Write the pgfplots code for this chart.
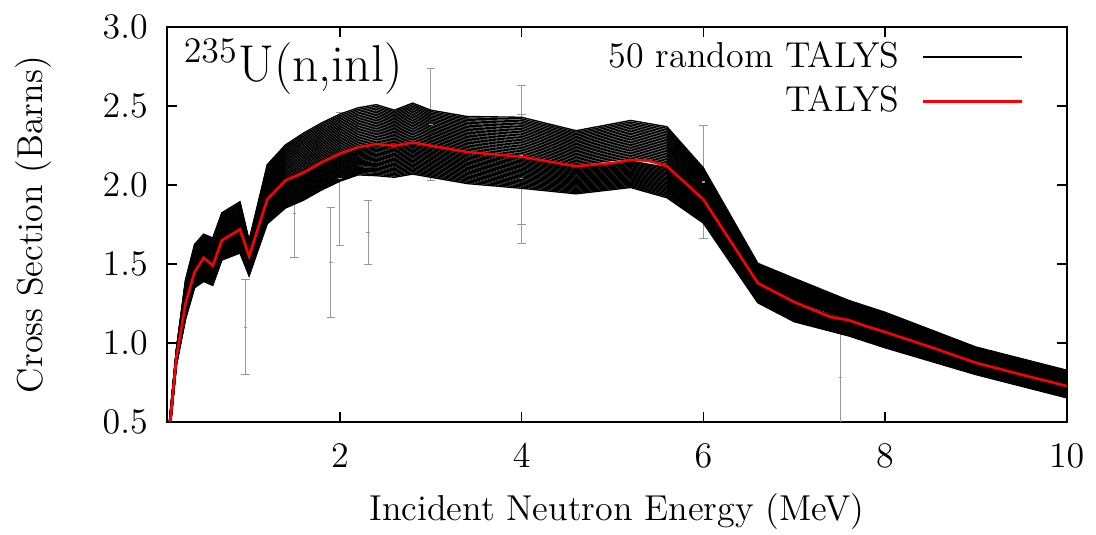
\documentclass[12pt,border=0pt]{standalone}
\usepackage{pgfplots}
\usepackage{pgfplotstable}
\pgfplotsset{compat=1.18}

% 50 random TALYS curves: column 0 = energy (MeV), columns 1..50 = cross sections (b)
\pgfplotstableread[header=false]{
0.1 0.270 0.272 0.274 0.276 0.278 0.280 0.282 0.284 0.286 0.288 0.290 0.292 0.294 0.296 0.298 0.300 0.302 0.304 0.306 0.308 0.310 0.312 0.314 0.316 0.318 0.322 0.324 0.326 0.328 0.330 0.332 0.334 0.336 0.338 0.340 0.342 0.344 0.346 0.348 0.350 0.352 0.354 0.356 0.358 0.360 0.362 0.364 0.366 0.368 0.370
0.2 0.860 0.862 0.864 0.866 0.868 0.870 0.872 0.874 0.876 0.878 0.880 0.882 0.884 0.886 0.888 0.890 0.892 0.894 0.896 0.898 0.900 0.902 0.904 0.906 0.908 0.912 0.914 0.916 0.918 0.920 0.922 0.924 0.926 0.928 0.930 0.932 0.934 0.936 0.938 0.940 0.942 0.944 0.946 0.948 0.950 0.952 0.954 0.956 0.958 0.960
0.3 1.150 1.154 1.158 1.162 1.166 1.170 1.174 1.178 1.182 1.186 1.190 1.194 1.198 1.202 1.206 1.210 1.214 1.218 1.222 1.226 1.230 1.234 1.238 1.242 1.246 1.256 1.262 1.268 1.274 1.280 1.286 1.292 1.298 1.304 1.310 1.316 1.322 1.328 1.334 1.340 1.346 1.352 1.358 1.364 1.370 1.376 1.382 1.388 1.394 1.400
0.4 1.350 1.354 1.358 1.362 1.366 1.370 1.374 1.378 1.382 1.386 1.390 1.394 1.398 1.402 1.406 1.410 1.414 1.418 1.422 1.426 1.430 1.434 1.438 1.442 1.446 1.457 1.464 1.471 1.478 1.485 1.492 1.499 1.506 1.513 1.520 1.527 1.534 1.541 1.548 1.555 1.562 1.569 1.576 1.583 1.590 1.597 1.604 1.611 1.618 1.625
0.5 1.390 1.396 1.402 1.408 1.414 1.420 1.426 1.432 1.438 1.444 1.450 1.456 1.462 1.468 1.474 1.480 1.486 1.492 1.498 1.504 1.510 1.516 1.522 1.528 1.534 1.546 1.552 1.558 1.564 1.570 1.576 1.582 1.588 1.594 1.600 1.606 1.612 1.618 1.624 1.630 1.636 1.642 1.648 1.654 1.660 1.666 1.672 1.678 1.684 1.690
0.6 1.365 1.370 1.375 1.380 1.385 1.390 1.395 1.400 1.405 1.410 1.415 1.420 1.425 1.430 1.435 1.440 1.445 1.450 1.455 1.460 1.465 1.470 1.475 1.480 1.485 1.497 1.504 1.511 1.518 1.525 1.532 1.539 1.546 1.553 1.560 1.567 1.574 1.581 1.588 1.595 1.602 1.609 1.616 1.623 1.630 1.637 1.644 1.651 1.658 1.665
0.7 1.525 1.530 1.535 1.540 1.545 1.550 1.555 1.560 1.565 1.570 1.575 1.580 1.585 1.590 1.595 1.600 1.605 1.610 1.615 1.620 1.625 1.630 1.635 1.640 1.645 1.657 1.664 1.671 1.678 1.685 1.692 1.699 1.706 1.713 1.720 1.727 1.734 1.741 1.748 1.755 1.762 1.769 1.776 1.783 1.790 1.797 1.804 1.811 1.818 1.825
0.9 1.570 1.576 1.582 1.588 1.594 1.600 1.606 1.612 1.618 1.624 1.630 1.636 1.642 1.648 1.654 1.660 1.666 1.672 1.678 1.684 1.690 1.696 1.702 1.708 1.714 1.727 1.734 1.741 1.748 1.755 1.762 1.769 1.776 1.783 1.790 1.797 1.804 1.811 1.818 1.825 1.832 1.839 1.846 1.853 1.860 1.867 1.874 1.881 1.888 1.895
1.0 1.425 1.430 1.435 1.440 1.445 1.450 1.455 1.460 1.465 1.470 1.475 1.480 1.485 1.490 1.495 1.500 1.505 1.510 1.515 1.520 1.525 1.530 1.535 1.540 1.545 1.554 1.558 1.562 1.566 1.570 1.574 1.578 1.582 1.586 1.590 1.594 1.598 1.602 1.606 1.610 1.614 1.618 1.622 1.626 1.630 1.634 1.638 1.642 1.646 1.650
1.2 1.755 1.761 1.767 1.773 1.779 1.785 1.791 1.797 1.803 1.809 1.815 1.821 1.827 1.833 1.839 1.845 1.851 1.857 1.863 1.869 1.875 1.881 1.887 1.893 1.899 1.914 1.923 1.932 1.941 1.950 1.959 1.968 1.977 1.986 1.995 2.004 2.013 2.022 2.031 2.040 2.049 2.058 2.067 2.076 2.085 2.094 2.103 2.112 2.121 2.130
1.4 1.855 1.862 1.869 1.876 1.883 1.890 1.897 1.904 1.911 1.918 1.925 1.932 1.939 1.946 1.953 1.960 1.967 1.974 1.981 1.988 1.995 2.002 2.009 2.016 2.023 2.039 2.048 2.057 2.066 2.075 2.084 2.093 2.102 2.111 2.120 2.129 2.138 2.147 2.156 2.165 2.174 2.183 2.192 2.201 2.210 2.219 2.228 2.237 2.246 2.255
1.6 1.905 1.912 1.919 1.926 1.933 1.940 1.947 1.954 1.961 1.968 1.975 1.982 1.989 1.996 2.003 2.010 2.017 2.024 2.031 2.038 2.045 2.052 2.059 2.066 2.073 2.090 2.100 2.110 2.120 2.130 2.140 2.150 2.160 2.170 2.180 2.190 2.200 2.210 2.220 2.230 2.240 2.250 2.260 2.270 2.280 2.290 2.300 2.310 2.320 2.330
1.8 1.970 1.977 1.984 1.991 1.998 2.005 2.012 2.019 2.026 2.033 2.040 2.047 2.054 2.061 2.068 2.075 2.082 2.089 2.096 2.103 2.110 2.117 2.124 2.131 2.138 2.155 2.165 2.175 2.185 2.195 2.205 2.215 2.225 2.235 2.245 2.255 2.265 2.275 2.285 2.295 2.305 2.315 2.325 2.335 2.345 2.355 2.365 2.375 2.385 2.395
2.0 2.025 2.032 2.039 2.046 2.053 2.060 2.067 2.074 2.081 2.088 2.095 2.102 2.109 2.116 2.123 2.130 2.137 2.144 2.151 2.158 2.165 2.172 2.179 2.186 2.193 2.210 2.220 2.230 2.240 2.250 2.260 2.270 2.280 2.290 2.300 2.310 2.320 2.330 2.340 2.350 2.360 2.370 2.380 2.390 2.400 2.410 2.420 2.430 2.440 2.450
2.2 2.065 2.072 2.079 2.086 2.093 2.100 2.107 2.114 2.121 2.128 2.135 2.142 2.149 2.156 2.163 2.170 2.177 2.184 2.191 2.198 2.205 2.212 2.219 2.226 2.233 2.250 2.260 2.270 2.280 2.290 2.300 2.310 2.320 2.330 2.340 2.350 2.360 2.370 2.380 2.390 2.400 2.410 2.420 2.430 2.440 2.450 2.460 2.470 2.480 2.490
2.4 2.060 2.068 2.076 2.084 2.092 2.100 2.108 2.116 2.124 2.132 2.140 2.148 2.156 2.164 2.172 2.180 2.188 2.196 2.204 2.212 2.220 2.228 2.236 2.244 2.252 2.270 2.280 2.290 2.300 2.310 2.320 2.330 2.340 2.350 2.360 2.370 2.380 2.390 2.400 2.410 2.420 2.430 2.440 2.450 2.460 2.470 2.480 2.490 2.500 2.510
2.6 2.050 2.058 2.066 2.074 2.082 2.090 2.098 2.106 2.114 2.122 2.130 2.138 2.146 2.154 2.162 2.170 2.178 2.186 2.194 2.202 2.210 2.218 2.226 2.234 2.242 2.259 2.268 2.277 2.286 2.295 2.304 2.313 2.322 2.331 2.340 2.349 2.358 2.367 2.376 2.385 2.394 2.403 2.412 2.421 2.430 2.439 2.448 2.457 2.466 2.475
2.8 2.070 2.078 2.086 2.094 2.102 2.110 2.118 2.126 2.134 2.142 2.150 2.158 2.166 2.174 2.182 2.190 2.198 2.206 2.214 2.222 2.230 2.238 2.246 2.254 2.262 2.280 2.290 2.300 2.310 2.320 2.330 2.340 2.350 2.360 2.370 2.380 2.390 2.400 2.410 2.420 2.430 2.440 2.450 2.460 2.470 2.480 2.490 2.500 2.510 2.520
3.0 2.050 2.058 2.066 2.074 2.082 2.090 2.098 2.106 2.114 2.122 2.130 2.138 2.146 2.154 2.162 2.170 2.178 2.186 2.194 2.202 2.210 2.218 2.226 2.234 2.242 2.259 2.268 2.277 2.286 2.295 2.304 2.313 2.322 2.331 2.340 2.349 2.358 2.367 2.376 2.385 2.394 2.403 2.412 2.421 2.430 2.439 2.448 2.457 2.466 2.475
3.4 2.010 2.018 2.026 2.034 2.042 2.050 2.058 2.066 2.074 2.082 2.090 2.098 2.106 2.114 2.122 2.130 2.138 2.146 2.154 2.162 2.170 2.178 2.186 2.194 2.202 2.219 2.228 2.237 2.246 2.255 2.264 2.273 2.282 2.291 2.300 2.309 2.318 2.327 2.336 2.345 2.354 2.363 2.372 2.381 2.390 2.399 2.408 2.417 2.426 2.435
4.0 1.980 1.988 1.996 2.004 2.012 2.020 2.028 2.036 2.044 2.052 2.060 2.068 2.076 2.084 2.092 2.100 2.108 2.116 2.124 2.132 2.140 2.148 2.156 2.164 2.172 2.190 2.200 2.210 2.220 2.230 2.240 2.250 2.260 2.270 2.280 2.290 2.300 2.310 2.320 2.330 2.340 2.350 2.360 2.370 2.380 2.390 2.400 2.410 2.420 2.430
4.6 1.945 1.952 1.959 1.966 1.973 1.980 1.987 1.994 2.001 2.008 2.015 2.022 2.029 2.036 2.043 2.050 2.057 2.064 2.071 2.078 2.085 2.092 2.099 2.106 2.113 2.129 2.138 2.147 2.156 2.165 2.174 2.183 2.192 2.201 2.210 2.219 2.228 2.237 2.246 2.255 2.264 2.273 2.282 2.291 2.300 2.309 2.318 2.327 2.336 2.345
5.2 1.985 1.992 1.999 2.006 2.013 2.020 2.027 2.034 2.041 2.048 2.055 2.062 2.069 2.076 2.083 2.090 2.097 2.104 2.111 2.118 2.125 2.132 2.139 2.146 2.153 2.170 2.180 2.190 2.200 2.210 2.220 2.230 2.240 2.250 2.260 2.270 2.280 2.290 2.300 2.310 2.320 2.330 2.340 2.350 2.360 2.370 2.380 2.390 2.400 2.410
5.6 1.920 1.928 1.936 1.944 1.952 1.960 1.968 1.976 1.984 1.992 2.000 2.008 2.016 2.024 2.032 2.040 2.048 2.056 2.064 2.072 2.080 2.088 2.096 2.104 2.112 2.130 2.140 2.150 2.160 2.170 2.180 2.190 2.200 2.210 2.220 2.230 2.240 2.250 2.260 2.270 2.280 2.290 2.300 2.310 2.320 2.330 2.340 2.350 2.360 2.370
6.0 1.760 1.766 1.772 1.778 1.784 1.790 1.796 1.802 1.808 1.814 1.820 1.826 1.832 1.838 1.844 1.850 1.856 1.862 1.868 1.874 1.880 1.886 1.892 1.898 1.904 1.918 1.926 1.934 1.942 1.950 1.958 1.966 1.974 1.982 1.990 1.998 2.006 2.014 2.022 2.030 2.038 2.046 2.054 2.062 2.070 2.078 2.086 2.094 2.102 2.110
6.6 1.255 1.260 1.265 1.270 1.275 1.280 1.285 1.290 1.295 1.300 1.305 1.310 1.315 1.320 1.325 1.330 1.335 1.340 1.345 1.350 1.355 1.360 1.365 1.370 1.375 1.385 1.390 1.395 1.400 1.405 1.410 1.415 1.420 1.425 1.430 1.435 1.440 1.445 1.450 1.455 1.460 1.465 1.470 1.475 1.480 1.485 1.490 1.495 1.500 1.505
7.0 1.135 1.140 1.145 1.150 1.155 1.160 1.165 1.170 1.175 1.180 1.185 1.190 1.195 1.200 1.205 1.210 1.215 1.220 1.225 1.230 1.235 1.240 1.245 1.250 1.255 1.266 1.272 1.278 1.284 1.290 1.296 1.302 1.308 1.314 1.320 1.326 1.332 1.338 1.344 1.350 1.356 1.362 1.368 1.374 1.380 1.386 1.392 1.398 1.404 1.410
7.6 1.045 1.049 1.053 1.057 1.061 1.065 1.069 1.073 1.077 1.081 1.085 1.089 1.093 1.097 1.101 1.105 1.109 1.113 1.117 1.121 1.125 1.129 1.133 1.137 1.141 1.150 1.155 1.160 1.165 1.170 1.175 1.180 1.185 1.190 1.195 1.200 1.205 1.210 1.215 1.220 1.225 1.230 1.235 1.240 1.245 1.250 1.255 1.260 1.265 1.270
8.0 0.970 0.974 0.978 0.982 0.986 0.990 0.994 0.998 1.002 1.006 1.010 1.014 1.018 1.022 1.026 1.030 1.034 1.038 1.042 1.046 1.050 1.054 1.058 1.062 1.066 1.075 1.080 1.085 1.090 1.095 1.100 1.105 1.110 1.115 1.120 1.125 1.130 1.135 1.140 1.145 1.150 1.155 1.160 1.165 1.170 1.175 1.180 1.185 1.190 1.195
9.0 0.800 0.803 0.806 0.809 0.812 0.815 0.818 0.821 0.824 0.827 0.830 0.833 0.836 0.839 0.842 0.845 0.848 0.851 0.854 0.857 0.860 0.863 0.866 0.869 0.872 0.879 0.883 0.887 0.891 0.895 0.899 0.903 0.907 0.911 0.915 0.919 0.923 0.927 0.931 0.935 0.939 0.943 0.947 0.951 0.955 0.959 0.963 0.967 0.971 0.975
10.0 0.653 0.656 0.659 0.662 0.665 0.668 0.671 0.674 0.677 0.680 0.683 0.686 0.689 0.692 0.695 0.698 0.701 0.704 0.707 0.710 0.713 0.716 0.719 0.722 0.725 0.732 0.736 0.740 0.744 0.748 0.752 0.756 0.760 0.764 0.768 0.772 0.776 0.780 0.784 0.788 0.792 0.796 0.800 0.804 0.808 0.812 0.816 0.820 0.824 0.828
}\randtab

% central TALYS curve
\pgfplotstableread{
x y
0.1 0.32
0.2 0.91
0.3 1.25
0.4 1.45
0.5 1.54
0.6 1.49
0.7 1.65
0.9 1.72
1.0 1.55
1.2 1.91
1.4 2.03
1.6 2.08
1.8 2.145
2.0 2.20
2.2 2.24
2.4 2.26
2.6 2.25
2.8 2.27
3.0 2.25
3.4 2.21
4.0 2.18
4.6 2.12
5.0 2.14
5.2 2.16
5.4 2.155
5.6 2.12
6.0 1.91
6.6 1.38
7.0 1.26
7.4 1.165
7.6 1.145
7.8 1.105
8.0 1.07
8.5 0.975
9.0 0.875
9.5 0.80
10.0 0.728
}\talystab

% experimental data with uncertainties
\pgfplotstableread{
x y e
0.96 1.10 0.30
1.50 1.82 0.28
1.90 1.51 0.35
2.00 2.04 0.42
2.31 1.70 0.20
3.00 2.385 0.355
4.00 2.19 0.44
4.00 2.04 0.41
6.00 2.02 0.355
7.51 0.78 0.40
}\exptab

\begin{document}
\begin{tikzpicture}
\begin{axis}[
  scale only axis,
  width=300pt, height=131.6pt,
  xmin=0.096, xmax=10, ymin=0.5, ymax=3,
  xtick={2,4,6,8,10},
  ytick={0.5,1.0,1.5,2.0,2.5,3.0},
  xticklabel style={yshift=-3.3pt},
  yticklabel style={xshift=-2.2pt, /pgf/number format/.cd, fixed, fixed zerofill, precision=1},
  tick align=inside,
  major tick length=3.3pt,
  every tick/.style={black, line width=0.5pt},
  axis line style={line width=0.65pt},
  every axis x label/.style={at={(axis description cs:0.5,-0.2508)}, anchor=base},
  every axis y label/.style={at={(axis description cs:-0.1383,0.5)}, rotate=90, anchor=base},
  xlabel={Incident Neutron Energy (MeV)},
  ylabel={Cross Section (Barns)},
  legend plot pos=right,
  legend cell align=right,
  legend image code/.code={\draw[#1] (0pt,0pt) -- (33pt,0pt);},
  legend style={draw=none, fill=none, inner sep=0pt, outer sep=0pt,
    at={(axis description cs:0.952,0.964)}, anchor=north east,
    column sep=7.6pt, row sep=4.4pt,
    nodes={inner sep=0pt}},
]
\addplot[forget plot, only marks, mark=-, mark size=0.6pt, color=gray!80, line width=0.35pt,
  error bars/.cd, y dir=both, y explicit,
  error bar style={color=gray!80, line width=0.35pt},
  error mark options={rotate=90, mark size=1.4pt, color=gray!80, line width=0.35pt}]
  table[x=x, y=y, y error=e] {\exptab};

\addplot[black, line width=0.45pt] table[x index=0, y index=1] {\randtab};
\addlegendentry{50 random TALYS}
\pgfplotsinvokeforeach{2,...,50}{
  \addplot[forget plot, black, line width=0.45pt] table[x index=0, y index=#1] {\randtab};
}
\addplot[red, line width=0.85pt] table[x=x, y=y] {\talystab};
\addlegendentry{TALYS}

\node[anchor=base west, inner sep=0pt] at (axis description cs:0.0181,0.8622) {\Large $^{235}$U(n,inl)};
\coordinate (BL) at (rel axis cs:0,0);
\coordinate (TR) at (rel axis cs:1,1);
\end{axis}
\pgfresetboundingbox
\useasboundingbox ([shift={(-55.67pt,-37.67pt)}]BL) rectangle ([shift={(9.77pt,9.1pt)}]TR);
\end{tikzpicture}
\end{document}
